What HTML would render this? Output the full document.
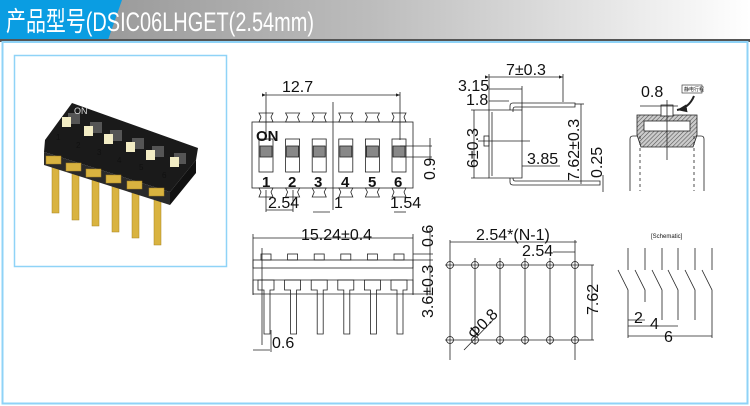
<!DOCTYPE html>
<html><head><meta charset="utf-8"><style>
html,body{margin:0;padding:0;background:#fff;}
svg{display:block;}
text{font-family:"Liberation Sans","Noto Sans CJK SC",sans-serif;fill:#111;}
</style></head><body>
<svg width="750" height="406" viewBox="0 0 750 406" xmlns="http://www.w3.org/2000/svg">
<defs>
<linearGradient id="hg" x1="0" x2="1" y1="0" y2="0">
<stop offset="0" stop-color="#8d8d8d"/><stop offset="0.5" stop-color="#bdbdbd"/><stop offset="1" stop-color="#ffffff"/>
</linearGradient>
<pattern id="hat" width="3" height="3" patternUnits="userSpaceOnUse" patternTransform="rotate(45)">
<rect width="3" height="3" fill="#ccc"/><line x1="0" y1="0" x2="0" y2="3" stroke="#555" stroke-width="1.2"/>
</pattern>
<marker id="ar" markerWidth="6" markerHeight="6" refX="5" refY="3" orient="auto"><path d="M0,1 L5,3 L0,5z" fill="#222"/></marker>
</defs>
<rect x="0" y="0" width="750" height="40" fill="url(#hg)"/>
<polygon points="0,0 122,0 108,40 0,40" fill="#0a9de2"/>
<rect x="0" y="39" width="750" height="3" fill="#555"/>
<text x="6" y="31" font-size="27" style="fill:#fff" textLength="308" lengthAdjust="spacingAndGlyphs">产品型号(DSIC06LHGET(2.54mm)</text>
<rect x="2.5" y="42" width="745" height="361.5" fill="none" stroke="#8fd3f7" stroke-width="2"/>
<rect x="14.5" y="55.5" width="212" height="211" fill="#fff" stroke="#8fd3f7" stroke-width="1.5"/>
<g>
<g fill="#d9b340" stroke="#a88420" stroke-width="0.5">
<rect x="52" y="158" width="7" height="55"/><rect x="72" y="165" width="7" height="55"/><rect x="92" y="171" width="7" height="55"/>
<rect x="112" y="177" width="7" height="55"/><rect x="132" y="183" width="7" height="55"/><rect x="154" y="190" width="7" height="55"/>
</g>
<polygon points="45,140 72,103 198,148 196,160 170,192 44,152" fill="#1a1a1a"/>
<polygon points="44,152 170,192 170,205 44,165" fill="#2a2a2a"/>
<polygon points="170,192 196,160 196,173 170,205" fill="#111"/>
<g fill="#d9b340" stroke="#a88420" stroke-width="0.5">
<rect x="46" y="156" width="15" height="8"/><rect x="66" y="163" width="15" height="8"/><rect x="86" y="169" width="15" height="8"/>
<rect x="106" y="175" width="15" height="8"/><rect x="127" y="181" width="15" height="8"/><rect x="149" y="188" width="15" height="8"/>
</g>
<g fill="#555"><rect x="68" y="113" width="12" height="11"/><rect x="90" y="122" width="12" height="11"/><rect x="110" y="130" width="12" height="11"/><rect x="132" y="138" width="12" height="11"/><rect x="152" y="146" width="12" height="11"/><rect x="174" y="153" width="12" height="11"/></g>
<g fill="#f2ecc4"><rect x="62" y="117" width="9" height="10"/><rect x="84" y="126" width="9" height="10"/><rect x="104" y="134" width="9" height="10"/><rect x="126" y="142" width="9" height="10"/><rect x="146" y="150" width="9" height="10"/><rect x="170" y="157" width="9" height="10"/></g>
<text x="74" y="114" font-size="9" style="fill:#ddd">ON</text>
<g font-size="8" style="fill:#ddd"><text x="56" y="140">1</text><text x="76" y="148">2</text><text x="97" y="155">3</text><text x="117" y="163">4</text><text x="139" y="170">5</text><text x="162" y="178">6</text></g>
</g>
<g stroke="#222" stroke-width="0.8" fill="none">
<rect x="252" y="122" width="161" height="66"/>
<line x1="266" y1="95" x2="400" y2="95" marker-end="url(#ar)" marker-start="url(#ar)"/>
<line x1="266" y1="92" x2="266" y2="140"/><line x1="400" y1="92" x2="400" y2="140"/>
<line x1="333" y1="102" x2="333" y2="210"/>
<g id="sw">
<rect x="259" y="139" width="14" height="33"/><rect x="260" y="146" width="12" height="11" fill="#888"/>
<path d="M259,113 h14 l-2,4 2,5 h-14 l2,-5z"/><path d="M259,188 h14 l-2,4 2,5 h-14 l2,-5z"/>
</g>
<use href="#sw" x="26.6"/><use href="#sw" x="53.2"/><use href="#sw" x="79.8"/><use href="#sw" x="106.4"/><use href="#sw" x="133"/>
<line x1="266" y1="210" x2="293" y2="210"/><line x1="266" y1="190" x2="266" y2="212"/><line x1="293" y1="190" x2="293" y2="212"/>
<line x1="313" y1="212" x2="330" y2="212"/><line x1="394" y1="212" x2="406" y2="212"/>
<line x1="400" y1="146" x2="432" y2="146"/><line x1="400" y1="157" x2="432" y2="157"/><line x1="430" y1="138" x2="430" y2="165"/>
<line x1="489" y1="77" x2="563" y2="77" marker-end="url(#ar)" marker-start="url(#ar)"/>
<line x1="489" y1="74" x2="489" y2="110"/><line x1="563" y1="74" x2="563" y2="102"/>
<line x1="489" y1="89" x2="522" y2="89"/><line x1="522" y1="86" x2="522" y2="110"/>
<line x1="489" y1="101" x2="509" y2="101"/>
<path d="M489,110 h33 v68 h-33z"/><path d="M492,112 v64"/>
<path d="M510,110 v-4 q0,-3 3,-3 h62 v4 h-60 q-2,0 -2,3 v2"/>
<path d="M510,178 v4 q0,3 3,3 h87 v-4 h-85 q-2,0 -2,-3 v0"/>
<rect x="484" y="136" width="5" height="10"/><line x1="478" y1="141" x2="530" y2="141"/>
<line x1="474" y1="110" x2="474" y2="178"/><line x1="471" y1="110" x2="489" y2="110"/><line x1="471" y1="178" x2="489" y2="178"/>
<line x1="522" y1="166" x2="560" y2="166"/>
<line x1="581" y1="104" x2="581" y2="184"/><line x1="575" y1="104" x2="584" y2="104"/>
<line x1="603" y1="175" x2="603" y2="192"/>
<path d="M637,115 h60 v20 l-4,12 h-52 l-4,-12z" fill="url(#hat)"/>
<rect x="644" y="121" width="46" height="10" fill="#fff"/>
<rect x="661" y="105" width="12" height="11" fill="#fff"/>
<path d="M637,136 h-4 q-3,0 -3,3 v52 M697,136 h4 q3,0 3,3 v52"/>
<path d="M640,136 v55 M694,136 v55" stroke-dasharray="3 3"/>
<line x1="667" y1="100" x2="667" y2="160"/><line x1="640" y1="106" x2="678" y2="106"/>
<path d="M694,96 q-5,12 -17,14" stroke-width="2" marker-end="url(#ar)"/>
<line x1="253" y1="238" x2="413" y2="238"/>
<line x1="253" y1="234" x2="253" y2="295"/><line x1="413" y1="234" x2="413" y2="295"/>
<rect x="253" y="260" width="160" height="8"/>
<g id="pn"><rect x="261" y="254" width="10" height="6"/><path d="M258,280 h16 v10 h-4 v44 h-6 v-44 h-6z"/></g>
<use href="#pn" x="26.6"/><use href="#pn" x="53.2"/><use href="#pn" x="79.8"/><use href="#pn" x="106.4"/><use href="#pn" x="133"/>
<path d="M253,280 h160 v14 h-160z"/>
<line x1="262" y1="248" x2="262" y2="345"/><line x1="271" y1="330" x2="271" y2="352"/>
<line x1="253" y1="350" x2="270" y2="350"/>
<line x1="430" y1="228" x2="430" y2="295"/><line x1="413" y1="254" x2="433" y2="254"/><line x1="413" y1="260" x2="433" y2="260"/><line x1="413" y1="294" x2="433" y2="294"/>
<line x1="450" y1="242" x2="577" y2="242"/><line x1="450" y1="240" x2="450" y2="360"/><line x1="575" y1="240" x2="575" y2="360"/>
<line x1="553" y1="252" x2="575" y2="252"/>
<line x1="445" y1="265" x2="580" y2="265"/><line x1="445" y1="340" x2="580" y2="340"/>
<line x1="475" y1="258" x2="475" y2="345"/><line x1="500" y1="258" x2="500" y2="345"/><line x1="525" y1="258" x2="525" y2="345"/><line x1="550" y1="258" x2="550" y2="345"/>
<g><circle cx="450" cy="265" r="3.5"/><circle cx="475" cy="265" r="3.5"/><circle cx="500" cy="265" r="3.5"/><circle cx="525" cy="265" r="3.5"/><circle cx="550" cy="265" r="3.5"/><circle cx="575" cy="265" r="3.5"/>
<circle cx="450" cy="340" r="3.5"/><circle cx="475" cy="340" r="3.5"/><circle cx="500" cy="340" r="3.5"/><circle cx="525" cy="340" r="3.5"/><circle cx="550" cy="340" r="3.5"/><circle cx="575" cy="340" r="3.5"/></g>
<line x1="580" y1="265" x2="594" y2="265"/><line x1="580" y1="340" x2="594" y2="340"/><line x1="592" y1="265" x2="592" y2="340"/>
<line x1="464" y1="350" x2="493" y2="320"/>
<path d="M628,248 v22 M618,270 l10,20 v30"/>
<path d="M645,248 v22 M635,270 l10,20 v12"/>
<path d="M662,248 v22 M652,270 l10,20 v30"/>
<path d="M678,248 v22 M668,270 l10,20 v30"/>
<path d="M695,248 v22 M685,270 l10,20 v30"/>
<path d="M712,248 v22 M702,270 l10,20 v48"/>
<line x1="628" y1="320" x2="628" y2="338"/>
<line x1="628" y1="320" x2="645" y2="320"/><line x1="628" y1="326" x2="678" y2="326"/><line x1="628" y1="336" x2="712" y2="336"/>
</g>
<g font-size="16">
<text x="282" y="92">12.7</text>
<text x="256" y="141" font-weight="bold" font-size="15">ON</text>
<g font-weight="bold" font-size="15"><text x="262" y="187">1</text><text x="288" y="187">2</text><text x="314" y="187">3</text><text x="341" y="187">4</text><text x="368" y="187">5</text><text x="394" y="187">6</text></g>
<text x="268" y="208">2.54</text><text x="334" y="208">1</text><text x="390" y="208">1.54</text>
<text transform="translate(435,180) rotate(-90)">0.9</text>
<text x="506" y="75">7±0.3</text>
<text x="458" y="91">3.15</text><text x="466" y="105">1.8</text>
<text transform="translate(478,168) rotate(-90)">6±0.3</text>
<text x="527" y="164">3.85</text>
<text transform="translate(579,181) rotate(-90)">7.62±0.3</text>
<text transform="translate(602,178) rotate(-90)">0.25</text>
<text x="641" y="97">0.8</text>
<text x="301" y="240">15.24±0.4</text>
<text x="272" y="348">0.6</text>
<text transform="translate(433,247) rotate(-90)">0.6</text>
<text transform="translate(433,318) rotate(-90)">3.6±0.3</text>
<text x="476" y="240">2.54*(N-1)</text>
<text x="522" y="256">2.54</text>
<text transform="translate(598,315) rotate(-90)">7.62</text>
<text transform="translate(474,340) rotate(-45)">Φ0.8</text>
<text x="634" y="323">2</text><text x="650" y="329">4</text><text x="664" y="342">6</text>
</g>
<text x="651" y="238" font-size="6" font-family="Liberation Serif">[Schematic]</text>
<rect x="682" y="85" width="20" height="8" fill="#fff" stroke="#222" stroke-width="0.6"/>
<text x="684" y="91" font-size="5">静电行程</text>
</svg>
</body></html>
